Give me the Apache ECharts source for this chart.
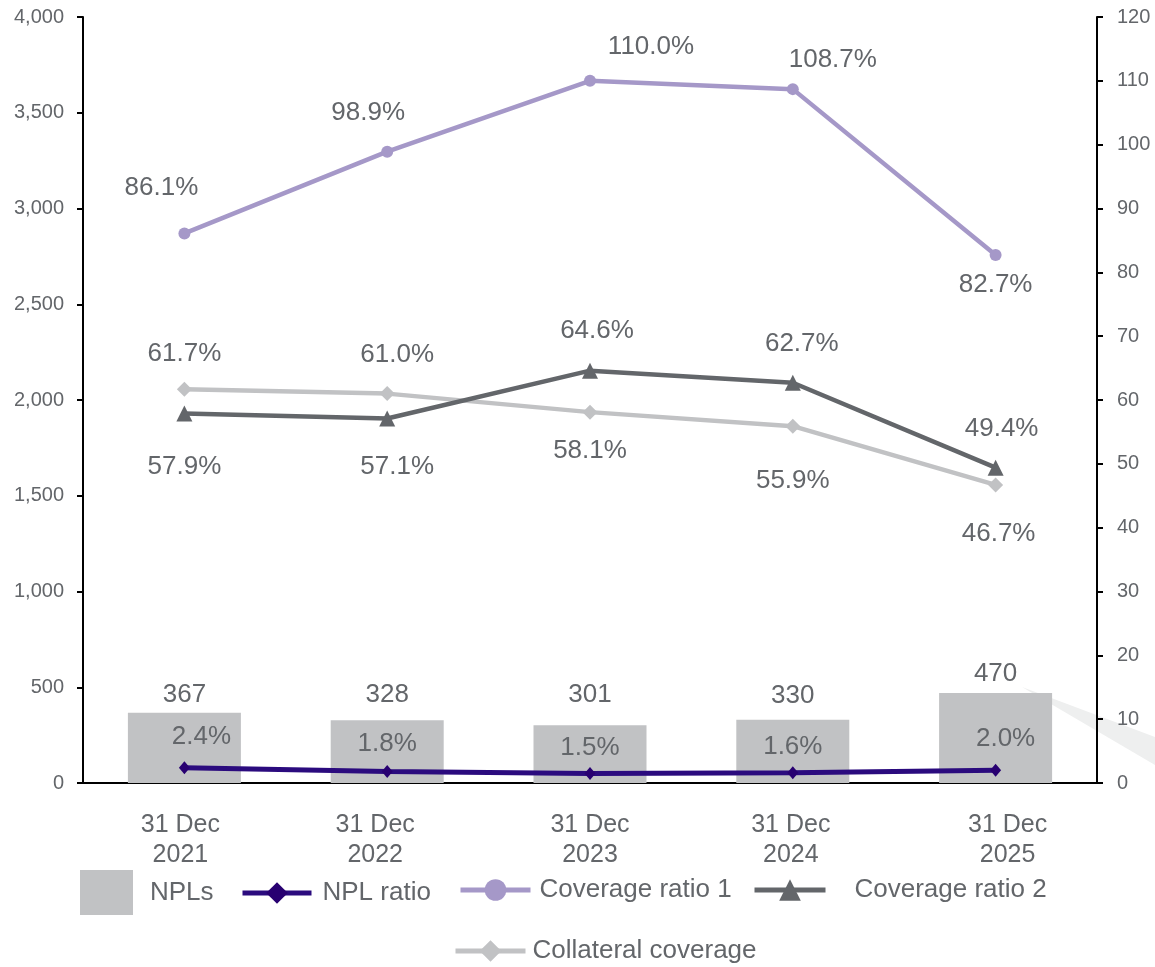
<!DOCTYPE html>
<html><head><meta charset="utf-8">
<script src="https://cdn.jsdelivr.net/npm/echarts@6/dist/echarts.min.js"></script>
<style>html,body{margin:0;padding:0;background:#fff}#c{width:1155px;height:967px}</style>
</head><body><div id="c"></div>
<script>
// ---- data ----
const categories = ['31 Dec\n2021', '31 Dec\n2022', '31 Dec\n2023', '31 Dec\n2024', '31 Dec\n2025'];
const npls = [367, 328, 301, 330, 470];
const nplRatio = [2.4, 1.8, 1.5, 1.6, 2.0];
const coverage1 = [86.1, 98.9, 110.0, 108.7, 82.7];
const coverage2 = [57.9, 57.1, 64.6, 62.7, 49.4];
const collateral = [61.7, 61.0, 58.1, 55.9, 46.7];
const leftAxis = {min: 0, max: 4000, interval: 500};
const rightAxis = {min: 0, max: 120, interval: 10};

// ---- label placement (style only) ----
const catShift = [-4, -12, 0, -2, 12];
const offBar = [[0, 0], [0, -7], [0, -13], [0, -6], [0, -1]];
const offNpl = [[17, -31], [0, -28], [0, -26], [0, -26], [10, -31]];
const offCov1 = [[-23, -46], [-19, -39], [61, -34], [40, -29], [0, 30]];
const offCov2 = [[0, 53], [10, 48], [7, -40], [9, -39], [6, -39]];
const offColl = [[0, -35], [10, -39], [0, 39], [0, 55], [3, 49]];

const TXT = '#63666a';
const FONT = "'Liberation Sans', Arial, sans-serif";

function pctData(vals, offs) {
  return vals.map((v, i) => ({
    value: v,
    label: {show: true, position: 'inside', offset: offs[i]}
  }));
}
function pctLabel() {
  return {show: true, color: TXT, fontSize: 26, fontFamily: FONT,
    formatter: p => p.value.toFixed(1) + '%'};
}
function mkLegend(name, left, top, w, h, gap, extra) {
  return Object.assign({
    data: [name], left: left, top: top, itemWidth: w, itemHeight: h,
    selectedMode: false, padding: 0,
    textStyle: {color: TXT, fontSize: 26, fontFamily: FONT, padding: [0, 0, 0, gap]}
  }, extra || {});
}

const chart = echarts.init(document.getElementById('c'), null, {renderer: 'canvas'});
chart.setOption({
  animation: false,
  backgroundColor: '#fff',
  textStyle: {fontFamily: FONT},
  grid: {left: 83, right: 58, top: 17, bottom: 184, containLabel: false},
  legend: [
    mkLegend('NPLs', 80, 870, 53, 45, 12, {icon: 'rect'}),
    mkLegend('NPL ratio', 240, 880, 69, 27, 6, {lineStyle: {width: 5}}),
    mkLegend('Coverage ratio 1', 458, 877, 70, 27, 4, {lineStyle: {width: 5}}),
    mkLegend('Coverage ratio 2', 752, 877, 71, 27, 24, {lineStyle: {width: 5}}),
    mkLegend('Collateral coverage', 453, 938, 70, 27, 2, {lineStyle: {width: 5}})
  ],
  xAxis: {
    type: 'category', boundaryGap: true,
    data: categories.map((c, i) => ({
      value: c,
      textStyle: {padding: catShift[i] >= 0 ? [0, 0, 0, 2 * catShift[i]] : [0, -2 * catShift[i], 0, 0]}
    })),
    axisLine: {lineStyle: {color: '#000', width: 2}},
    axisTick: {show: false},
    axisLabel: {color: TXT, fontSize: 25, fontFamily: FONT, lineHeight: 30, margin: 27, interval: 0}
  },
  yAxis: [
    {type: 'value', min: leftAxis.min, max: leftAxis.max, interval: leftAxis.interval,
     splitLine: {show: false},
     axisLine: {show: true, lineStyle: {color: '#000', width: 2}},
     axisTick: {show: true, length: 6, lineStyle: {color: '#000', width: 2}},
     axisLabel: {color: TXT, fontSize: 20, fontFamily: FONT, margin: 19,
       formatter: v => v.toLocaleString('en-US')}},
    {type: 'value', min: rightAxis.min, max: rightAxis.max, interval: rightAxis.interval,
     position: 'right', splitLine: {show: false},
     axisLine: {show: true, lineStyle: {color: '#000', width: 2}},
     axisTick: {show: true, length: 6, lineStyle: {color: '#000', width: 2}},
     axisLabel: {color: TXT, fontSize: 20, fontFamily: FONT, margin: 20}}
  ],
  series: [
    {name: 'NPLs', type: 'bar', z: 1, barWidth: 113,
     data: npls.map((v, i) => ({value: v, label: {offset: offBar[i]}})),
     itemStyle: {color: '#c1c2c4'},
     label: {show: true, position: 'top', distance: 5, color: TXT, fontSize: 26, fontFamily: FONT}},
    {name: 'NPL ratio', type: 'line', yAxisIndex: 1, data: pctData(nplRatio, offNpl), z: 5,
     symbol: 'diamond', symbolSize: [11, 13],
     lineStyle: {color: '#2b0b7e', width: 5}, itemStyle: {color: '#280071'},
     label: pctLabel()},
    {name: 'Coverage ratio 1', type: 'line', yAxisIndex: 1, data: pctData(coverage1, offCov1), z: 4,
     symbol: 'circle', symbolSize: 12,
     lineStyle: {color: '#a598c8', width: 4.5}, itemStyle: {color: '#a598c8'},
     label: pctLabel()},
    {name: 'Coverage ratio 2', type: 'line', yAxisIndex: 1, data: pctData(coverage2, offCov2), z: 4,
     symbol: 'triangle', symbolSize: 16,
     lineStyle: {color: '#63666a', width: 4.5}, itemStyle: {color: '#63666a'},
     label: pctLabel()},
    {name: 'Collateral coverage', type: 'line', yAxisIndex: 1, data: pctData(collateral, offColl), z: 3,
     symbol: 'diamond', symbolSize: 15,
     lineStyle: {color: '#c1c2c4', width: 4.5}, itemStyle: {color: '#c1c2c4'},
     label: pctLabel()}
  ],
  graphic: [{
    type: 'polygon', silent: true, z: 0,
    shape: {points: [[1022, 687], [1155, 737], [1155, 765]]},
    style: {fill: '#eeefef'}
  }]
});
</script>
</body></html>
